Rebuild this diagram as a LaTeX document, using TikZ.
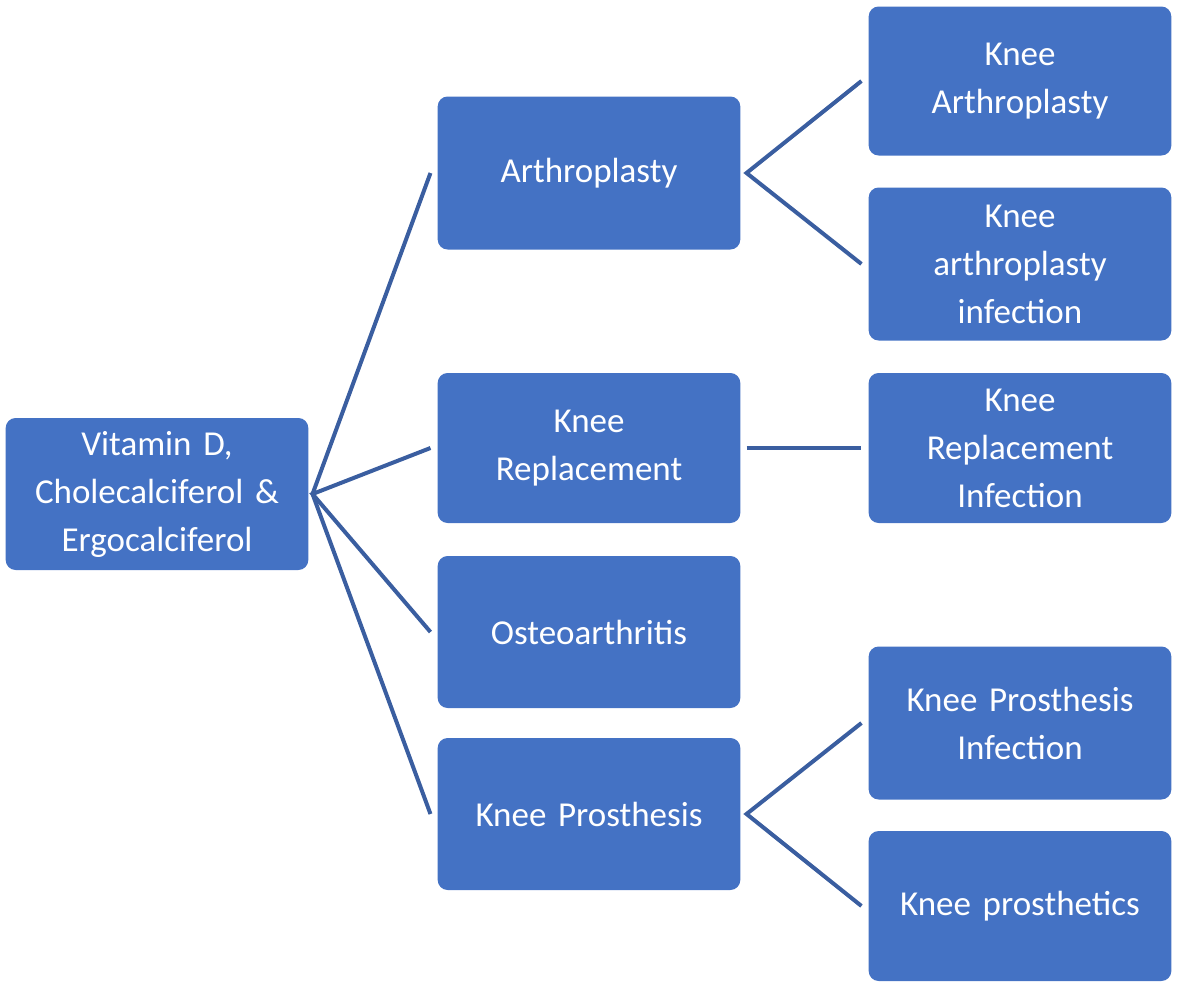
\documentclass[tikz,border=0pt]{standalone}
\usepackage{fontspec}
\setmainfont{Carlito}
\begin{document}
\begin{tikzpicture}[x=1pt,y=-1pt,
 box/.style={draw=none,fill={rgb,255:red,68;green,114;blue,196},rounded corners=10pt,minimum width=300pt,text width=296pt,align=center,text=white,font=\fontsize{35}{48}\selectfont},
 con/.style={draw={rgb,255:red,58;green,94;blue,160},line width=4pt}]
\useasboundingbox (0,0) rectangle (1177,988);
\node[box,minimum height=152pt] (root) at (157,494) {Vitamin D,\\Cholecalciferol \&\\Ergocalciferol};
\node[box,minimum height=153pt] (a) at (589,173) {Arthroplasty};
\node[box,minimum height=150pt] (b) at (589,448) {Knee\\Replacement};
\node[box,minimum height=152pt] (c) at (589,632) {Osteoarthritis};
\node[box,minimum height=152pt] (d) at (589,814) {Knee Prosthesis};
\node[box,minimum height=149pt] (a1) at (1020,81) {Knee\\Arthroplasty};
\node[box,minimum height=153pt] (a2) at (1020,264) {Knee\\arthroplasty\\infection};
\node[box,minimum height=150pt] (b1) at (1020,448) {Knee\\Replacement\\Infection};
\node[box,minimum height=153pt] (d1) at (1020,723) {Knee Prosthesis\\Infection};
\node[box,minimum height=150pt] (d2) at (1020,906) {Knee prosthetics};
\coordinate (r) at ([xshift=4pt]root.east);
\coordinate (aw) at ([xshift=-7pt]a.west);
\coordinate (bw) at ([xshift=-7pt]b.west);
\coordinate (cw) at ([xshift=-7pt]c.west);
\coordinate (dw) at ([xshift=-7pt]d.west);
\draw[con] (aw) -- (r) -- (dw);
\draw[con] (bw) -- (r) -- (cw);
\draw[con] ([xshift=-7pt]a1.west) -- ([xshift=6pt]a.east) -- ([xshift=-7pt]a2.west);
\draw[con] ([xshift=6pt]b.east) -- ([xshift=-7pt]b1.west);
\draw[con] ([xshift=-7pt]d1.west) -- ([xshift=6pt]d.east) -- ([xshift=-7pt]d2.west);
\end{tikzpicture}
\end{document}
